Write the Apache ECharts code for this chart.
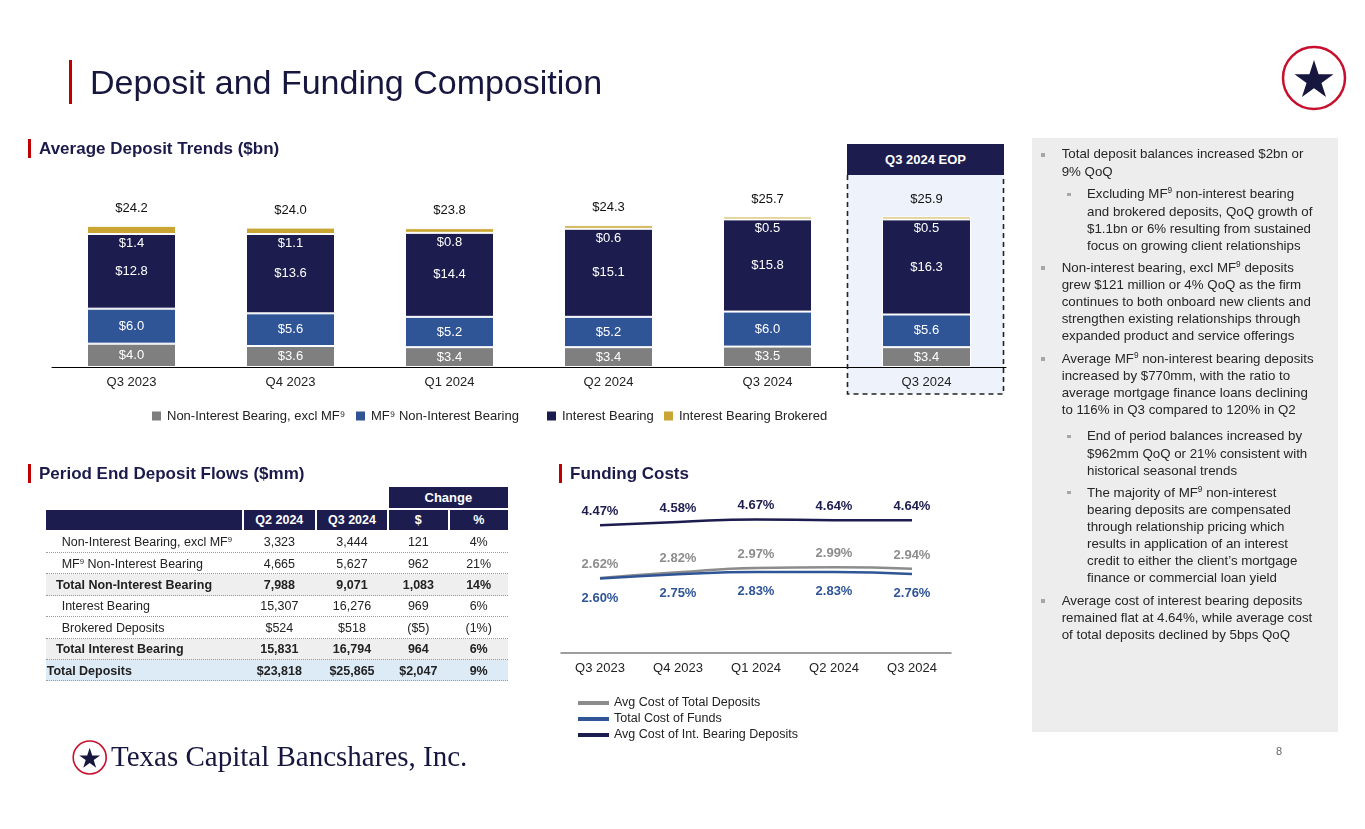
<!DOCTYPE html>
<html><head><meta charset="utf-8">
<script src="https://cdn.jsdelivr.net/npm/echarts/dist/echarts.min.js"></script>
<style>
body{margin:0;width:1365px;height:829px;position:relative;overflow:hidden;background:#fff;font-family:'Liberation Sans',Arial,sans-serif;color:#222;}
.abs{position:absolute;}
sup{font-size:62%;line-height:0;vertical-align:0.55em;}
.sec{position:absolute;font-weight:bold;font-size:17px;color:#1b1b4b;line-height:20px;white-space:nowrap;}
.redbar{position:absolute;background:#c00000;width:3px;}
.cell{position:absolute;display:flex;align-items:center;justify-content:center;white-space:nowrap;}
.para{position:absolute;font-size:13.3px;line-height:17.1px;color:#262626;white-space:nowrap;}
.bul{position:absolute;background:#a6a6a6;}
</style></head><body>
<script>
// ---------- DATA ----------
const categories = ['Q3 2023','Q4 2023','Q1 2024','Q2 2024','Q3 2024','Q3 2024 EOP'];
const nonIntExclMF   = [4.0, 3.6, 3.4, 3.4, 3.5, 3.4];
const mfNonInt       = [6.0, 5.6, 5.2, 5.2, 6.0, 5.6];
const interestBearing= [12.8, 13.6, 14.4, 15.1, 15.8, 16.3];
const brokered       = [1.4, 1.1, 0.8, 0.6, 0.5, 0.5];
const totals         = [24.2, 24.0, 23.8, 24.3, 25.7, 25.9];
const depositLegend  = ['Non-Interest Bearing, excl MF\u2079','MF\u2079 Non-Interest Bearing','Interest Bearing','Interest Bearing Brokered'];

const costCategories = ['Q3 2023','Q4 2023','Q1 2024','Q2 2024','Q3 2024'];
const avgCostTotalDeposits = [2.62, 2.82, 2.97, 2.99, 2.94];
const totalCostFunds       = [2.60, 2.75, 2.83, 2.83, 2.76];
const avgCostIntBearing    = [4.47, 4.58, 4.67, 4.64, 4.64];
const costLegend = ['Avg Cost of Total Deposits','Total Cost of Funds','Avg Cost of Int. Bearing Deposits'];

const tableCols   = ['Q2 2024','Q3 2024','$','%'];
const tableLabels = ['Non-Interest Bearing, excl MF<sup>9</sup>','MF<sup>9</sup> Non-Interest Bearing','Total Non-Interest Bearing','Interest Bearing','Brokered Deposits','Total Interest Bearing','Total Deposits'];
const tableQ2     = ['3,323','4,665','7,988','15,307','$524','15,831','$23,818'];
const tableQ3     = ['3,444','5,627','9,071','16,276','$518','16,794','$25,865'];
const tableChgD   = ['121','962','1,083','969','($5)','964','$2,047'];
const tableChgP   = ['4%','21%','14%','6%','(1%)','6%','9%'];
const tableTypes  = ['item','item','total','item','item','total','grand'];
</script>

<!-- background layer -->
<div class="abs" style="left:1032px;top:138px;width:306px;height:594px;background:#ededed;z-index:0"></div>
<div class="abs" style="left:847px;top:175px;width:157px;height:219px;background:#eef3fb;z-index:0"></div>

<div id="chart" class="abs" style="left:0;top:0;width:1365px;height:829px;z-index:1"></div>

<!-- foreground layer -->
<div id="fg" class="abs" style="left:0;top:0;width:1365px;height:829px;z-index:2;pointer-events:none">
  <div class="redbar" style="left:69px;top:60px;height:44px;"></div>
  <div class="abs" style="left:90px;top:62px;font-size:34px;line-height:40px;color:#16163f;white-space:nowrap;">Deposit and Funding Composition</div>
  <svg class="abs" style="left:1270px;top:34px" width="90" height="90" id="logoTop"></svg>

  <div class="redbar" style="left:28px;top:139px;height:19px;"></div>
  <div class="sec" style="left:39px;top:139px;">Average Deposit Trends ($bn)</div>
  <div class="redbar" style="left:28px;top:464px;height:19px;"></div>
  <div class="sec" style="left:39px;top:464px;">Period End Deposit Flows ($mm)</div>
  <div class="redbar" style="left:559px;top:464px;height:19px;"></div>
  <div class="sec" style="left:570px;top:464px;">Funding Costs</div>

  <div id="eopHead" class="cell" style="left:847px;top:144px;width:157px;height:31px;background:#1c1c4f;color:#fff;font-weight:bold;font-size:13px;"></div>
  <svg class="abs" style="left:0;top:0" width="1365" height="829">
    <path d="M847.5,175 V394 H1003.5 V175" fill="none" stroke="#222" stroke-width="1.6" stroke-dasharray="5 4"/>
  </svg>

  <div id="table"></div>
  <div id="panel"></div>

  <svg class="abs" style="left:60px;top:728px" width="60" height="60" id="logoBottom"></svg>
  <div class="abs" style="left:111px;top:738px;font-family:'Liberation Serif','Times New Roman',serif;font-size:29px;line-height:36px;color:#16163f;white-space:nowrap;">Texas Capital Bancshares, Inc.</div>
  <div class="abs" style="left:1276px;top:745px;font-size:11px;color:#666;">8</div>
</div>

<script>
// ---------- logos ----------
function starPath(cx, cy, R){
  const r = R*0.382; let d='';
  for(let i=0;i<10;i++){
    const a = -Math.PI/2 + i*Math.PI/5;
    const rr = i%2===0 ? R : r;
    d += (i===0?'M':'L') + (cx+rr*Math.cos(a)).toFixed(2)+','+(cy+rr*Math.sin(a)).toFixed(2);
  }
  return d+'Z';
}
document.getElementById('logoTop').innerHTML =
  '<circle cx="44" cy="44" r="31" fill="#fff" stroke="#c8102e" stroke-width="2.5"/>' +
  '<path d="'+starPath(44,46.5,20.5)+'" fill="#16163f"/>';
document.getElementById('logoBottom').innerHTML =
  '<circle cx="29.7" cy="29.5" r="16.5" fill="#fff" stroke="#c8102e" stroke-width="1.6"/>' +
  '<path d="'+starPath(29.7,30.8,11)+'" fill="#16163f"/>';
document.getElementById('eopHead').textContent = categories[5];

// ---------- table ----------
(function(){
  const t = document.getElementById('table');
  let h = '';
  const colX = [[46,196.3],[244,70.7],[316.7,70.6],[389,58.7],[449.7,58]];
  h += '<div class="cell" style="left:389px;top:487px;width:118.7px;height:20.5px;background:#1c1c4f;color:#fff;font-weight:bold;font-size:13px;">Change</div>';
  h += '<div class="cell" style="left:46px;top:509.5px;width:196.3px;height:20.5px;background:#1c1c4f;"></div>';
  tableCols.forEach((c,i)=>{
    const [x,w]=colX[i+1];
    h += '<div class="cell" style="left:'+x+'px;top:509.5px;width:'+w+'px;height:20.5px;background:#1c1c4f;color:#fff;font-weight:bold;font-size:12.5px;">'+c+'</div>';
  });
  const rh = 21.4, top0 = 531.6;
  tableLabels.forEach((lab,r)=>{
    const y = top0 + r*rh;
    const ty = tableTypes[r];
    const bg = ty==='total' ? '#efefef' : (ty==='grand' ? '#ddebf7' : 'transparent');
    const fw = ty==='item' ? 'normal' : 'bold';
    const pad = ty==='item' ? 15.7 : (ty==='total' ? 10 : 0.7);
    h += '<div class="abs" style="left:46px;top:'+y+'px;width:461.7px;height:'+rh+'px;background:'+bg+';border-bottom:1px dotted #9a9a9a;box-sizing:border-box;"></div>';
    h += '<div class="cell" style="left:46px;top:'+y+'px;width:196px;height:'+rh+'px;justify-content:flex-start;padding-left:'+pad+'px;box-sizing:border-box;font-size:12.5px;font-weight:'+fw+';"><span>'+lab+'</span></div>';
    [tableQ2[r],tableQ3[r],tableChgD[r],tableChgP[r]].forEach((v,i)=>{
      const [x,w]=colX[i+1];
      h += '<div class="cell" style="left:'+x+'px;top:'+y+'px;width:'+w+'px;height:'+rh+'px;font-size:12.5px;font-weight:'+fw+';">'+v+'</div>';
    });
  });
  t.innerHTML = h;
})();

// ---------- panel ----------
(function(){
  const paras = [
    {lvl:1, c:154, lines:['Total deposit balances increased $2bn or','9% QoQ']},
    {lvl:2, c:194, lines:['Excluding MF<sup>9</sup> non-interest bearing','and brokered deposits, QoQ growth of','$1.1bn or 6% resulting from sustained','focus on growing client relationships']},
    {lvl:1, c:267.3, lines:['Non-interest bearing, excl MF<sup>9</sup> deposits','grew $121 million or 4% QoQ as the firm','continues to both onboard new clients and','strengthen existing relationships through','expanded product and service offerings']},
    {lvl:1, c:358.3, lines:['Average MF<sup>9</sup> non-interest bearing deposits','increased by $770mm, with the ratio to','average mortgage finance loans declining','to 116% in Q3 compared to 120% in Q2']},
    {lvl:2, c:436, lines:['End of period balances increased by','$962mm QoQ or 21% consistent with','historical seasonal trends']},
    {lvl:2, c:492.3, lines:['The majority of MF<sup>9</sup> non-interest','bearing deposits are compensated','through relationship pricing which','results in application of an interest','credit to either the client\u2019s mortgage','finance or commercial loan yield']},
    {lvl:1, c:600.7, lines:['Average cost of interest bearing deposits','remained flat at 4.64%, while average cost','of total deposits declined by 5bps QoQ']}
  ];
  let h='';
  paras.forEach(p=>{
    const tx = p.lvl===1 ? 1061.7 : 1087;
    const bx = p.lvl===1 ? 1042.7 : 1069;
    const bs = p.lvl===1 ? 4 : 3.4;
    h += '<div class="bul" style="left:'+(bx-bs/2)+'px;top:'+(p.c-bs/2+0.5)+'px;width:'+bs+'px;height:'+bs+'px;"></div>';
    h += '<div class="para" style="left:'+tx+'px;top:'+(p.c-8.55)+'px;">'+p.lines.join('<br>')+'</div>';
  });
  document.getElementById('panel').innerHTML = h;
})();

// ---------- chart ----------
const FONT = "'Liberation Sans', Arial, sans-serif";
const NAVY = '#1c1c4f', BLUE = '#2f5597', GRAY = '#7f7f7f', GOLD = '#c9a633';
const chart = echarts.init(document.getElementById('chart'), null, {renderer:'canvas'});
const segLabel = {show:true, position:'inside', color:'#fff', fontSize:13, fontFamily:FONT,
                  formatter:p=>'$'+Number(p.value).toFixed(1)};
const legendBase = {icon:'rect', itemWidth:11, itemHeight:11, top:409.5, padding:0,
                    textStyle:{fontSize:13, color:'#222', fontFamily:FONT}, selectedMode:false};
const lineLabel = (pos,color,dist)=>({show:true, position:pos, distance:dist, color:color, fontSize:13, fontWeight:'bold', fontFamily:FONT,
                  formatter:p=>Number(p.value).toFixed(2)+'%'});
chart.setOption({
  animation:false,
  textStyle:{fontFamily:FONT},
  grid:[
    {left:52, top:192, width:954, height:175},
    {left:561, top:510, width:390, height:142.7}
  ],
  xAxis:[
    {type:'category', gridIndex:0, data:categories,
     axisLine:{lineStyle:{color:'#000', width:1}}, axisTick:{show:false},
     axisLabel:{color:'#222', fontSize:13, margin:9, formatter:v=>v.replace(' EOP','')}},
    {type:'category', gridIndex:1, data:costCategories,
     axisLine:{lineStyle:{color:'#7f7f7f', width:1.5}}, axisTick:{show:false},
     axisLabel:{color:'#222', fontSize:13, margin:9}}
  ],
  yAxis:[
    {type:'value', gridIndex:0, min:0, max:30, show:false},
    {type:'value', gridIndex:1, min:0, max:5, show:false}
  ],
  legend:[
    Object.assign({}, legendBase, {left:150, data:[depositLegend[0]]}),
    Object.assign({}, legendBase, {left:354, data:[depositLegend[1]]}),
    Object.assign({}, legendBase, {left:545, data:[depositLegend[2]]}),
    Object.assign({}, legendBase, {left:662, data:[depositLegend[3]]}),
    {orient:'vertical', left:578, top:696, icon:'rect', itemWidth:31, itemHeight:4, itemGap:2, padding:0, selectedMode:false,
     textStyle:{fontSize:12.5, color:'#222', lineHeight:14, fontFamily:FONT}, data:costLegend}
  ],
  series:[
    {name:depositLegend[0], type:'bar', stack:'dep', xAxisIndex:0, yAxisIndex:0, data:nonIntExclMF, barWidth:89,
     itemStyle:{color:GRAY, borderColor:'#fff', borderWidth:1}, label:segLabel},
    {name:depositLegend[1], type:'bar', stack:'dep', xAxisIndex:0, yAxisIndex:0, data:mfNonInt, barWidth:89,
     itemStyle:{color:BLUE, borderColor:'#fff', borderWidth:1}, label:segLabel},
    {name:depositLegend[2], type:'bar', stack:'dep', xAxisIndex:0, yAxisIndex:0, data:interestBearing, barWidth:89,
     itemStyle:{color:NAVY, borderColor:'#fff', borderWidth:1}, label:segLabel},
    {name:depositLegend[3], type:'bar', stack:'dep', xAxisIndex:0, yAxisIndex:0, data:brokered, barWidth:89,
     itemStyle:{color:GOLD, borderColor:'#fff', borderWidth:1},
     label:Object.assign({}, segLabel, {position:'bottom', distance:3})},
    {name:'Total', type:'bar', stack:'dep', xAxisIndex:0, yAxisIndex:0, data:totals.map(()=>0), barWidth:89,
     itemStyle:{color:'rgba(0,0,0,0)'}, silent:true,
     label:{show:true, position:'top', distance:11, color:'#111', fontSize:13, fontFamily:FONT,
            formatter:p=>'$'+totals[p.dataIndex].toFixed(1)}},
    {name:costLegend[0], type:'line', xAxisIndex:1, yAxisIndex:1, data:avgCostTotalDeposits, smooth:true, symbol:'circle', symbolSize:0, showSymbol:true,
     lineStyle:{color:'#8c8c8c', width:2.5}, itemStyle:{color:'#8c8c8c'}, label:lineLabel('top','#8c8c8c',7), z:3},
    {name:costLegend[1], type:'line', xAxisIndex:1, yAxisIndex:1, data:totalCostFunds, smooth:true, symbol:'circle', symbolSize:0, showSymbol:true,
     lineStyle:{color:BLUE, width:2.5}, itemStyle:{color:BLUE}, label:lineLabel('bottom',BLUE,13), z:4},
    {name:costLegend[2], type:'line', xAxisIndex:1, yAxisIndex:1, data:avgCostIntBearing, smooth:true, symbol:'circle', symbolSize:0, showSymbol:true,
     lineStyle:{color:NAVY, width:2.5}, itemStyle:{color:NAVY}, label:lineLabel('top',NAVY,7), z:5}
  ]
});
</script>
</body></html>
